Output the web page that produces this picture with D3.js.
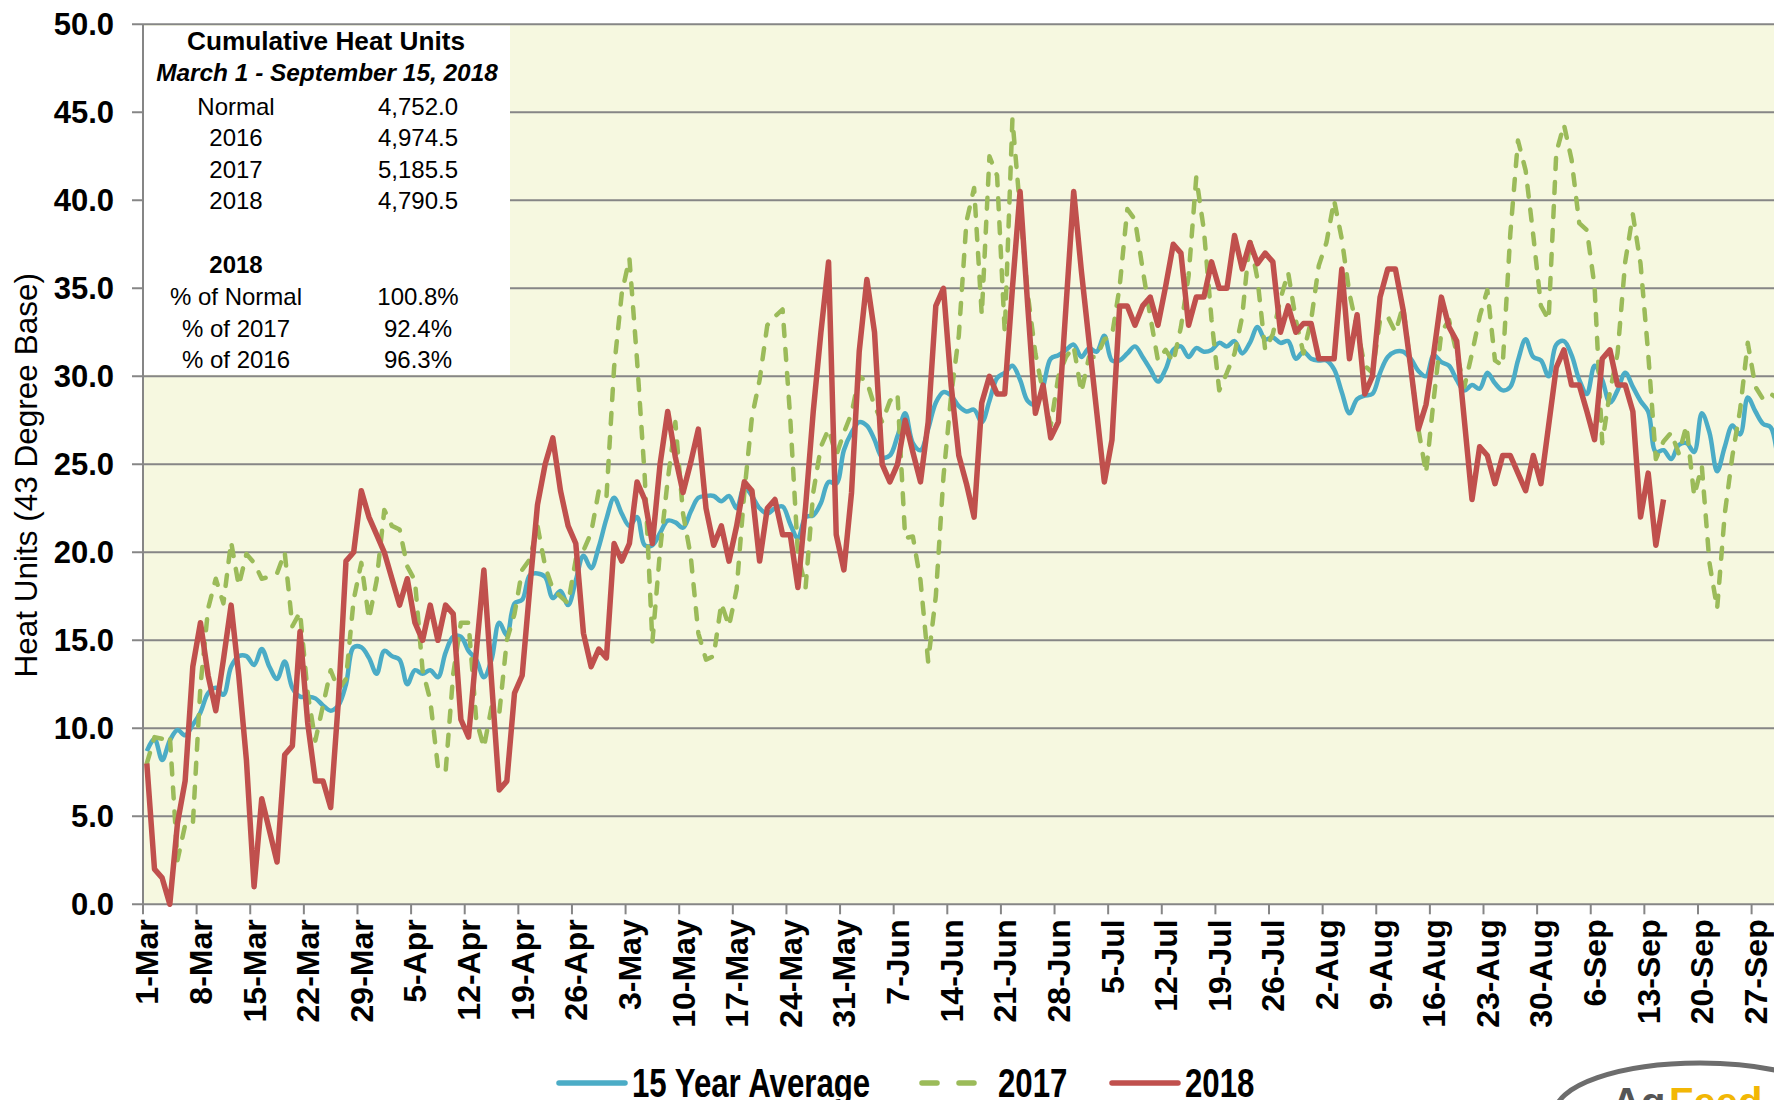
<!DOCTYPE html>
<html>
<head>
<meta charset="utf-8">
<script src="https://cdnjs.cloudflare.com/ajax/libs/d3/7.8.5/d3.min.js"></script>
<style>
  body { margin: 0; background: #fff; }
  svg { display: block; font-family: "Liberation Sans", Arial, sans-serif; }
</style>
</head>
<body>
<div id="plot"></div>
<script>
// Daily heat units, one value per day starting 1-Mar
var avg15 = [8.7,9.4,8.2,9.3,9.9,9.6,10.2,10.9,12.0,12.3,
  11.9,13.5,14.1,14.1,13.6,14.5,13.5,12.8,13.8,12.3,
  11.8,11.8,11.7,11.3,11.0,11.3,12.5,14.6,14.6,14.0,
  13.1,14.4,14.1,13.9,12.5,13.3,13.1,13.3,12.9,14.3,
  15.2,15.2,14.4,13.9,12.9,13.9,16.0,15.3,17.1,17.3,
  18.7,18.8,18.6,17.4,17.8,17.0,18.4,19.8,19.1,20.3,
  21.9,23.1,22.2,21.5,22.0,20.4,20.4,21.1,21.8,21.7,
  21.4,22.3,23.1,23.2,23.2,22.9,23.2,22.5,23.7,23.2,
  22.5,22.2,22.5,22.6,21.6,20.8,22.0,22.1,22.8,24.0,
  23.9,25.8,26.8,27.4,27.2,26.4,25.4,25.5,26.6,27.9,
  26.2,25.8,27.0,28.5,29.1,28.9,28.3,28.0,28.1,27.4,
  28.6,29.9,30.2,30.6,29.8,28.6,28.4,29.4,31.0,31.2,
  31.5,31.8,31.1,31.6,31.4,32.3,30.9,30.9,31.3,31.7,
  31.1,30.4,29.7,30.4,31.5,31.7,31.1,31.6,31.4,31.5,
  31.9,31.7,32.0,31.3,31.9,32.8,32.1,32.2,31.9,32.0,
  31.0,31.4,31.0,30.9,30.9,30.4,29.1,27.9,28.7,28.9,
  29.0,30.2,31.1,31.4,31.4,31.0,30.3,30.0,31.2,30.8,
  30.6,29.8,29.2,29.5,29.3,30.2,29.6,29.2,29.4,30.9,
  32.1,31.1,30.9,30.0,31.8,32.0,31.2,29.8,29.0,30.6,
  29.8,28.5,29.2,30.2,29.4,28.6,28.0,25.7,25.8,25.3,
  26.1,26.2,25.7,27.9,26.8,24.6,26.0,27.2,26.7,28.8,
  28.0,27.3,27.1,24.9];

var y2017 = [8.0,9.5,9.4,9.6,2.5,4.5,4.5,12.4,16.8,18.5,
  17.1,20.6,18.1,19.9,19.4,18.5,18.6,18.8,20.0,15.8,
  16.6,12.0,9.3,11.3,13.3,12.2,12.8,17.3,19.4,16.2,
  18.4,22.4,21.5,21.3,19.2,18.4,13.3,11.6,7.8,7.5,
  13.1,16.0,16.0,10.5,8.9,11.2,10.8,15.0,16.5,19.0,
  19.6,21.5,19.2,17.9,17.5,17.1,19.6,20.1,21.1,23.5,
  23.1,30.5,34.7,36.7,30.9,24.3,14.9,20.1,24.1,27.4,
  22.2,19.8,15.4,13.9,14.1,17.1,15.8,17.9,23.4,27.7,
  29.8,32.9,33.4,33.8,27.6,19.9,18.0,23.4,26.0,27.0,
  25.5,26.8,27.9,30.0,29.7,28.3,27.4,28.6,29.0,20.8,
  20.9,18.4,13.8,17.5,24.3,28.9,32.3,38.8,40.7,33.5,
  42.5,41.4,32.5,44.6,39.5,34.7,31.3,29.1,27.2,30.0,
  31.1,31.7,29.1,31.1,31.1,32.1,32.3,35.1,39.5,38.9,
  36.1,33.4,30.9,31.5,30.8,32.8,35.7,41.3,38.3,33.2,
  29.2,30.2,31.3,33.4,37.8,35.5,31.5,32.4,34.4,35.9,
  33.2,31.3,33.2,36.3,37.6,40.0,37.8,34.7,32.7,30.6,
  30.2,33.2,33.4,32.5,34.0,30.5,27.0,24.5,28.7,32.5,
  33.2,31.3,29.4,31.3,33.4,34.9,30.9,30.6,38.1,43.4,
  41.7,38.0,34.0,33.2,42.7,44.3,42.3,38.7,38.3,35.1,
  26.2,29.1,31.3,36.5,39.2,36.4,31.3,25.3,26.3,26.8,
  25.6,27.2,23.2,24.9,19.4,16.8,22.2,25.5,28.1,31.9,
  29.4,28.7,29.0,28.7];

var y2018 = [8.0,2.0,1.5,0.0,4.6,7.0,13.5,16.0,13.0,11.0,
  13.9,17.0,13.0,8.2,1.0,6.0,4.2,2.4,8.5,9.0,
  15.5,10.3,7.0,7.0,5.5,11.5,19.5,20.0,23.5,22.0,
  21.0,20.0,18.5,17.0,18.5,16.0,15.0,17.0,15.0,17.0,
  16.5,10.5,9.5,14.3,19.0,12.7,6.5,7.0,12.0,13.0,
  18.0,22.7,25.0,26.5,23.5,21.5,20.5,15.4,13.5,14.5,
  14.0,20.5,19.5,20.5,24.0,23.0,20.5,25.0,28.0,25.4,
  23.4,25.1,27.0,22.5,20.4,21.5,19.5,21.5,24.0,23.5,
  19.5,22.5,23.0,21.0,21.0,18.0,22.6,28.0,32.5,36.5,
  21.0,19.0,23.4,31.4,35.5,32.5,25.0,24.0,25.0,27.5,
  25.7,24.0,27.4,34.0,35.0,29.5,25.5,23.9,22.0,28.5,
  30.0,29.0,29.0,35.0,40.5,34.0,27.9,29.5,26.5,27.4,
  34.0,40.5,36.0,32.0,28.0,24.0,26.4,34.0,34.0,32.9,
  34.0,34.5,32.9,35.1,37.5,37.0,32.9,34.5,34.5,36.5,
  35.0,35.0,38.0,36.1,37.6,36.4,37.0,36.5,32.5,34.0,
  32.5,33.0,33.0,31.0,31.0,31.0,36.1,31.0,33.5,29.0,
  30.0,34.5,36.1,36.1,33.8,30.5,27.0,28.4,31.3,34.5,
  32.8,32.0,27.5,23.0,26.0,25.5,23.9,25.5,25.5,24.5,
  23.5,25.5,23.9,27.2,30.5,31.5,29.5,29.5,28.0,26.4,
  31.0,31.5,29.5,29.5,28.0,22.0,24.5,20.4,23.0];

var tickLabels = ["1-Mar","8-Mar","15-Mar","22-Mar","29-Mar","5-Apr","12-Apr","19-Apr",
  "26-Apr","3-May","10-May","17-May","24-May","31-May","7-Jun","14-Jun","21-Jun",
  "28-Jun","5-Jul","12-Jul","19-Jul","26-Jul","2-Aug","9-Aug","16-Aug","23-Aug",
  "30-Aug","6-Sep","13-Sep","20-Sep","27-Sep"];
var tickEvery = 7;

var seriesNames = ["15 Year Average", "2017", "2018"];
var seriesColors = ["#4BACC6", "#9BBB59", "#C0504D"];

var boxTitle = "Cumulative Heat Units";
var boxSubtitle = "March 1 - September 15, 2018";
var totalRows = [["Normal", "4,752.0"], ["2016", "4,974.5"], ["2017", "5,185.5"], ["2018", "4,790.5"]];
var pctHeader = "2018";
var pctRows = [["% of Normal", "100.8%"], ["% of 2017", "92.4%"], ["% of 2016", "96.3%"]];

// ---- layout
var W = 1774, H = 1100;
var plotLeft = 143, plotTop = 24.3, plotBottom = 904.3, dayStep = 7.66;
var nDays = avg15.length;

var svg = d3.select("#plot").append("svg")
  .attr("width", W).attr("height", H);

var x = d3.scaleBand()
  .domain(d3.range(nDays))
  .range([plotLeft, plotLeft + nDays * dayStep])
  .padding(0);
var y = d3.scaleLinear().domain([0, 50]).range([plotBottom, plotTop]);
var cx = function(i) { return x(i) + x.bandwidth() / 2; };

// plot area background
svg.append("rect")
  .attr("x", plotLeft).attr("y", plotTop)
  .attr("width", x.range()[1] - plotLeft).attr("height", plotBottom - plotTop)
  .attr("fill", "#F6F8E0");

// horizontal gridlines
var yTicks = d3.range(0, 50.1, 5);
svg.append("g").selectAll("line")
  .data(yTicks).enter().append("line")
  .attr("x1", plotLeft - 11).attr("x2", x.range()[1])
  .attr("y1", function(d) { return y(d); }).attr("y2", function(d) { return y(d); })
  .attr("stroke", "#868686").attr("stroke-width", 2);

// summary box (covers gridlines between 30 and 50)
svg.append("rect")
  .attr("x", plotLeft + 1).attr("y", y(50) + 1.5)
  .attr("width", 366).attr("height", y(30) - y(50) - 3)
  .attr("fill", "#ffffff");

var box = svg.append("g").attr("text-anchor", "middle").attr("fill", "#000");
box.append("text").attr("x", 326).attr("y", 50)
  .style("font-size", "26.2px").style("font-weight", "bold").text(boxTitle);
box.append("text").attr("x", 327).attr("y", 81)
  .style("font-size", "24.4px").style("font-weight", "bold").style("font-style", "italic")
  .text(boxSubtitle);
totalRows.forEach(function(r, i) {
  box.append("text").attr("x", 236).attr("y", 115 + i * 31.4).style("font-size", "24px").text(r[0]);
  box.append("text").attr("x", 418).attr("y", 115 + i * 31.4).style("font-size", "24px").text(r[1]);
});
box.append("text").attr("x", 236).attr("y", 273)
  .style("font-size", "24px").style("font-weight", "bold").text(pctHeader);
pctRows.forEach(function(r, i) {
  box.append("text").attr("x", 236).attr("y", 305 + i * 31.5).style("font-size", "24px").text(r[0]);
  box.append("text").attr("x", 418).attr("y", 305 + i * 31.5).style("font-size", "24px").text(r[1]);
});

// y axis line
svg.append("line")
  .attr("x1", plotLeft).attr("x2", plotLeft)
  .attr("y1", plotTop).attr("y2", plotBottom)
  .attr("stroke", "#868686").attr("stroke-width", 2);

// y tick labels
svg.append("g").selectAll("text")
  .data(yTicks).enter().append("text")
  .attr("x", 114).attr("y", function(d) { return y(d); })
  .attr("dy", "0.36em")
  .attr("text-anchor", "end")
  .style("font-size", "31px").style("font-weight", "bold")
  .text(d3.format(".1f"));

// x ticks and labels
var tickDays = d3.range(0, nDays, tickEvery).slice(0, tickLabels.length);
svg.append("g").selectAll("line")
  .data(tickDays).enter().append("line")
  .attr("x1", function(d) { return x(d); }).attr("x2", function(d) { return x(d); })
  .attr("y1", plotBottom).attr("y2", plotBottom + 10)
  .attr("stroke", "#868686").attr("stroke-width", 2);
svg.append("g").selectAll("text")
  .data(tickDays).enter().append("text")
  .attr("transform", function(d) { return "translate(" + cx(d) + "," + (plotBottom + 15) + ") rotate(-90)"; })
  .attr("dy", "0.36em")
  .attr("text-anchor", "end")
  .style("font-size", "32px").style("font-weight", "bold")
  .text(function(d, i) { return tickLabels[i]; });

// y axis title
svg.append("text")
  .attr("transform", "translate(26," + ((plotTop + plotBottom) / 2 + 11) + ") rotate(-90)")
  .attr("dy", "0.36em")
  .attr("text-anchor", "middle")
  .style("font-size", "31.5px")
  .text("Heat Units (43 Degree Base)");

// series lines
var line = d3.line().x(function(d, i) { return cx(i); }).y(function(d) { return y(d); });
svg.append("path")
  .attr("d", line.curve(d3.curveCatmullRom)(avg15))
  .attr("fill", "none").attr("stroke", seriesColors[0]).attr("stroke-width", 4.5)
  .attr("stroke-linejoin", "round");
svg.append("path")
  .attr("d", line.curve(d3.curveLinear)(y2017))
  .attr("fill", "none").attr("stroke", seriesColors[1]).attr("stroke-width", 4.5)
  .attr("stroke-dasharray", "11,13").attr("stroke-linecap", "round")
  .attr("stroke-linejoin", "round");
svg.append("path")
  .attr("d", line.curve(d3.curveLinear)(y2018))
  .attr("fill", "none").attr("stroke", seriesColors[2]).attr("stroke-width", 5.5)
  .attr("stroke-linejoin", "round");

// legend
var legY = 1083;
var legend = svg.append("g");
var legItems = [
  {x1: 559, x2: 625, tx: 632, dash: null},
  {x1: 922, x2: 975, tx: 998, dash: "15,22"},
  {x1: 1112, x2: 1178, tx: 1185, dash: null}
];
legItems.forEach(function(it, i) {
  legend.append("line")
    .attr("x1", it.x1).attr("x2", it.x2).attr("y1", legY).attr("y2", legY)
    .attr("stroke", seriesColors[i]).attr("stroke-width", 5.5)
    .attr("stroke-linecap", "round")
    .attr("stroke-dasharray", it.dash);
  legend.append("text")
    .attr("transform", "translate(" + it.tx + "," + (legY + 14) + ") scale(0.78,1)")
    .style("font-size", "40px").style("font-weight", "bold")
    .text(seriesNames[i]);
});

// logo (cut off at the bottom right)
svg.append("ellipse")
  .attr("cx", 1700).attr("cy", 1113).attr("rx", 145).attr("ry", 50)
  .attr("fill", "none").attr("stroke", "#6d6d6d").attr("stroke-width", 5);
svg.append("text").attr("x", 1612).attr("y", 1116)
  .style("font-size", "40px").style("font-weight", "bold").attr("fill", "#555")
  .text("Ag");
svg.append("text").attr("x", 1669).attr("y", 1116)
  .style("font-size", "40px").style("font-weight", "bold").attr("fill", "#F2B705")
  .text("Feed");
</script>
</body>
</html>
